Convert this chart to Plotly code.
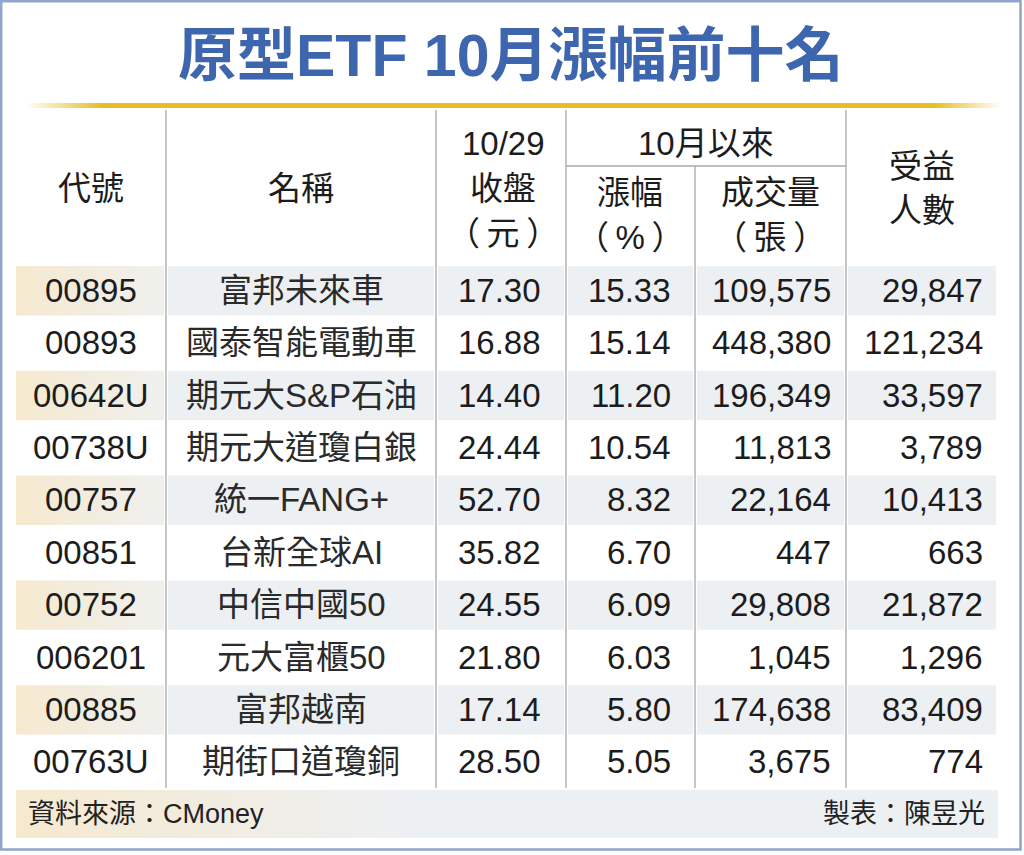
import plotly.graph_objects as go

# ---------------- data ----------------
codes = ["00895", "00893", "00642U", "00738U", "00757", "00851", "00752", "006201", "00885", "00763U"]
names = ["富邦未來車", "國泰智能電動車", "期元大S&P石油", "期元大道瓊白銀", "統一FANG+",
         "台新全球AI", "中信中國50", "元大富櫃50", "富邦越南", "期街口道瓊銅"]
close = [17.30, 16.88, 14.40, 24.44, 52.70, 35.82, 24.55, 21.80, 17.14, 28.50]
change = [15.33, 15.14, 11.20, 10.54, 8.32, 6.70, 6.09, 6.03, 5.80, 5.05]
volume = [109575, 448380, 196349, 11813, 22164, 447, 29808, 1045, 174638, 3675]
holders = [29847, 121234, 33597, 3789, 10413, 663, 21872, 1296, 83409, 774]

title = "原型ETF 10月漲幅前十名"
hdr_code = "代號"
hdr_name = "名稱"
hdr_close = ["10/29", "收盤", "（\u2009元\u2009）"]
hdr_group = "10月以來"
hdr_change = ["漲幅", "（\u2009%\u2009）"]
hdr_volume = ["成交量", "（\u2009張\u2009）"]
hdr_holders = ["受益", "人數"]
source = "資料來源：CMoney"
author = "製表：陳昱光"

# ---------------- layout constants ----------------
W, H = 1024, 855
LEFT, RIGHT = 16, 998
SEPS = [166, 436, 566, 695, 846]
BOUNDS = [LEFT] + SEPS + [RIGHT]
HEAD_TOP = 110
SUB_Y = 166
ROW_TOP = 264
ROW_H = 52.4
N = len(codes)
TABLE_BOTTOM = ROW_TOP + N * ROW_H
FOOT_TOP = TABLE_BOTTOM + 2
FOOT_BOTTOM = 838

FONT = "Liberation Sans, Arial, Noto Sans CJK TC"
TXT = "#1c1c1c"
GREY = "#edf0f3"
CREAM = "#f6e9cf"
GOLD = "#e7bd22"
BLUE = "#3d66ae"
LINE = "#a8a8a8"

fig = go.Figure()
shapes = []
annos = []


def anno(x, y, text, size=33, xanchor="center", color=TXT, **kw):
    annos.append(dict(x=x, y=y, xref="x", yref="y", text=text, showarrow=False,
                      xanchor=xanchor, yanchor="middle",
                      font=dict(family=FONT, size=size, color=color, **kw)))


def poly(x0, x1, y0, y1):
    return [x0, x1, x1, x0, x0], [y0, y0, y1, y1, y0]


# gold line under the title
gx, gy = poly(25, 1002, 103, 108)
fig.add_trace(go.Scatter(x=gx, y=gy, fill="toself", mode="none", hoverinfo="skip",
                         fillgradient=dict(type="horizontal",
                                           colorscale=[[0, "#ffffff"], [0.08, GOLD],
                                                       [0.93, GOLD], [1, "#ffffff"]])))

# shaded rows
cx, cy = [], []
for i in range(N):
    if i % 2:
        continue
    top = ROW_TOP + i * ROW_H + 2
    bot = ROW_TOP + (i + 1) * ROW_H - 1
    for c in range(len(BOUNDS) - 1):
        l = BOUNDS[c] + (0 if c == 0 else 2)
        r = BOUNDS[c + 1] - 2
        if c == 0:
            px, py = poly(l, r, top, bot)
            cx += px + [None]
            cy += py + [None]
        else:
            shapes.append(dict(type="rect", xref="x", yref="y", x0=l, x1=r, y0=top, y1=bot,
                               fillcolor=GREY, line=dict(width=0), layer="below"))
fig.add_trace(go.Scatter(x=cx, y=cy, fill="toself", mode="none", hoverinfo="skip",
                         fillgradient=dict(type="horizontal",
                                           colorscale=[[0, CREAM], [1, "#eff0ee"]])))

# footer band
fx, fy = poly(LEFT, RIGHT, FOOT_TOP, FOOT_BOTTOM)
fig.add_trace(go.Scatter(x=fx, y=fy, fill="toself", mode="none", hoverinfo="skip",
                         fillgradient=dict(type="horizontal",
                                           colorscale=[[0, CREAM], [0.4, GREY], [1, GREY]])))

# grid lines
for s in SEPS:
    y0 = SUB_Y if s == 695 else HEAD_TOP
    shapes.append(dict(type="line", xref="x", yref="y", x0=s, x1=s, y0=y0, y1=TABLE_BOTTOM,
                       line=dict(color=LINE, width=1.3)))
shapes.append(dict(type="line", xref="x", yref="y", x0=566, x1=846, y0=SUB_Y, y1=SUB_Y,
                   line=dict(color=LINE, width=1.3)))

# outer frame
shapes.append(dict(type="rect", xref="x", yref="y", x0=1.2, x1=1020.5, y0=1.2, y1=849.5,
                   line=dict(color="#8fa5cb", width=2.5)))

# title
anno(510, 56, title, size=59, color=BLUE, weight="bold")

# header
anno(91, 188, hdr_code)
anno(301, 188, hdr_name)
for k, t in enumerate(hdr_close):
    anno(503, 143 + 45 * k, t)
anno(706, 143, hdr_group)
for k, t in enumerate(hdr_change):
    anno(630, 192 + 45 * k, t)
for k, t in enumerate(hdr_volume):
    anno(770, 192 + 45 * k, t)
for k, t in enumerate(hdr_holders):
    anno(922, 166 + 44 * k, t)

# body
num_right = [543, 673, 833, 985]
for i in range(N):
    y = ROW_TOP + (i + 0.5) * ROW_H
    anno((BOUNDS[0] + BOUNDS[1]) / 2, y, codes[i])
    anno((BOUNDS[1] + BOUNDS[2]) / 2, y, names[i], color="#2a2a2a")
    anno(num_right[0], y, f"{close[i]:.2f}", xanchor="right")
    anno(num_right[1], y, f"{change[i]:.2f}", xanchor="right")
    anno(num_right[2], y, f"{volume[i]:,}", xanchor="right")
    anno(num_right[3], y, f"{holders[i]:,}", xanchor="right")

# footer
fy_c = (FOOT_TOP + FOOT_BOTTOM) / 2
anno(26, fy_c, source, size=27, xanchor="left", color="#222222")
anno(987, fy_c, author, size=27, xanchor="right", color="#222222")

fig.update_layout(
    width=W, height=H, margin=dict(l=0, r=0, t=0, b=0),
    paper_bgcolor="white", plot_bgcolor="white", showlegend=False,
    xaxis=dict(range=[0, W], visible=False, fixedrange=True),
    yaxis=dict(range=[H, 0], visible=False, fixedrange=True),
    shapes=shapes, annotations=annos,
)
fig.write_html("out.html", config={"displayModeBar": False},
               post_script="document.body.style.margin='0';document.body.style.overflow='hidden';")
